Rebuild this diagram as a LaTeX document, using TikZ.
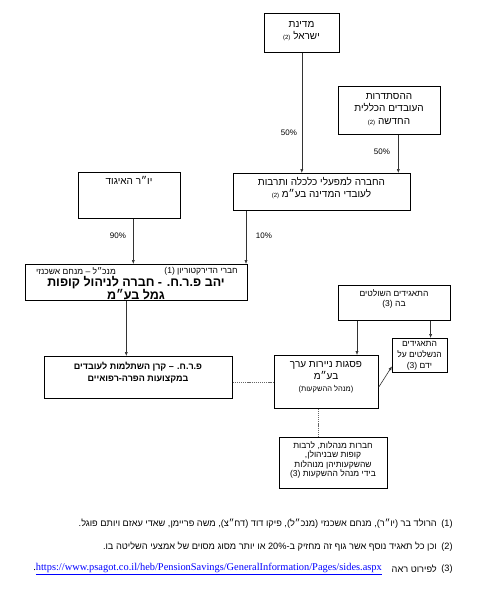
\documentclass[tikz,border=0pt]{standalone}
\usepackage{fontspec}
\setmainfont{Liberation Sans}
\newfontfamily\hebfont[Script=Hebrew]{Liberation Sans}
\newfontfamily\urlfont{Liberation Serif}
\usetikzlibrary{arrows.meta,calc}
\TeXXeTstate=1
\newcommand\heb[1]{\beginR#1\endR}
\newcommand\ltr[1]{\beginL#1\endL}
\newcommand\smn[1]{{\fontsize{6}{7}\selectfont\beginL#1\endL}}
\begin{document}
\begin{tikzpicture}[x=1pt,y=-1pt,
  box/.style={draw, line width=0.6pt, inner sep=0pt, anchor=north west},
  txt/.style={font=\hebfont\fontsize{10}{12}\selectfont, align=center, inner sep=0pt},
  small/.style={font=\hebfont\fontsize{8.5}{10}\selectfont, align=center, inner sep=0pt},
  pct/.style={font=\fontsize{8}{9}\selectfont, inner sep=0pt},
  arr/.style={draw=black!80, line width=0.6pt, -{Latex[length=4pt,width=3.2pt]}},
  dsh/.style={draw=black!60, line width=0.5pt, dash pattern=on 1.2pt off 0.9pt},
  foot/.style={font=\hebfont\fontsize{9.2}{10}\selectfont, inner sep=0pt}]
\useasboundingbox (0,0) rectangle (481,589);

% boxes
\node[box, minimum width=75pt,  minimum height=39pt] (A) at (264,13) {};
\node[box, minimum width=102pt, minimum height=48pt] (B) at (338,86) {};
\node[box, minimum width=177pt, minimum height=37pt] (C) at (233,173) {};
\node[box, minimum width=102pt, minimum height=46pt] (D) at (78,172) {};
\node[box, minimum width=222pt, minimum height=36pt] (E) at (25,264) {};
\node[box, minimum width=188pt, minimum height=42pt] (F) at (44,356) {};
\node[box, minimum width=104pt, minimum height=53pt] (G) at (274,355) {};
\node[box, minimum width=112pt, minimum height=35pt] (H) at (338,285) {};
\node[box, minimum width=55pt,  minimum height=34pt] (I) at (392,338) {};
\node[box, minimum width=108pt, minimum height=51pt] (J) at (279,437) {};

% texts
\node[txt] (At) at (301.5,31) {\heb{מדינת}\\\heb{ישראל \smn{(2)}}};
\node[txt, font=\hebfont\fontsize{10}{12.5}\selectfont] (Bt) at (389,109.5) {\heb{ההסתדרות}\\\heb{העובדים הכללית}\\\heb{החדשה \smn{(2)}}};
\node[txt] (Ct) at (321.5,188) {\heb{החברה למפעלי כלכלה ותרבות}\\\heb{לעובדי המדינה בע״מ \smn{(2)}}};
\node[txt] (Dt) at (129,180) {\heb{יו״ר האיגוד}};
\node[small, anchor=east] (Et1) at (238,271) {\heb{חברי הדירקטוריון \ltr{(1)}}};
\node[small, anchor=west] (Et2) at (36,271) {\heb{מנכ״ל – מנחם אשכנזי}};
\node[txt, font=\hebfont\bfseries\fontsize{12.5}{12}\selectfont] (Et) at (136,288) {\heb{יהב פ.ר.ח. - חברה לניהול קופות}\\\heb{גמל בע״מ}};
\node[txt, font=\hebfont\bfseries\fontsize{9}{12}\selectfont] (Ft) at (138,373) {\heb{פ.ר.ח. – קרן השתלמות לעובדים}\\\heb{במקצועות הפרה-רפואיים}};
\node[txt] (Gt) at (326,377) {\heb{פסגות ניירות ערך}\\\heb{בע״מ}\\{\fontsize{7.5}{9}\selectfont\heb{(מנהל ההשקעות)}}};
\node[small] (Ht) at (394,299) {\heb{התאגידים השולטים}\\\heb{בה \ltr{(3)}}};
\node[small, font=\hebfont\fontsize{8.5}{11}\selectfont] (It) at (419.5,356) {\heb{התאגידים}\\\heb{הנשלטים על}\\\heb{ידם \ltr{(3)}}};
\node[small, font=\hebfont\fontsize{8.5}{9.5}\selectfont] (Jt) at (333,460) {\heb{חברות מנהלות, לרבות}\\\heb{קופות שבניהולן,}\\\heb{שהשקעותיהן מנוהלות}\\\heb{בידי מנהל ההשקעות \ltr{(3)}}};

% connectors
\draw[arr] (A.south) -- (A.south |- C.north);
\coordinate (b1) at ($(B.south)+(9,0)$);
\draw[arr] (b1) -- (b1 |- C.north);
\coordinate (c1) at ($(C.south west)+(13,0)$);
\draw[arr] (c1) -- (c1 |- E.north);
\coordinate (d1) at ($(D.south)+(4,0)$);
\draw[arr] (d1) -- (d1 |- E.north);
\coordinate (e1) at ($(E.south)+(-10,0)$);
\draw[arr] (e1) -- (e1 |- F.north);
\draw[dsh] (G.west -| F.east) -- (G.west);
\coordinate (h1) at ($(H.south west)+(19,0)$);
\draw[arr] (h1) -- (h1 |- G.north);
\coordinate (h2) at ($(H.south east)+(-20,0)$);
\draw[arr] (h2) -- (h2 |- I.north);
\draw[arr] ($(G.east)+(0,5.5)$) -- ($(I.west)+(0,11)$);
\coordinate (g1) at ($(G.south west)+(44,0)$);
\draw[dsh] (g1) -- (g1 |- J.north);

% percentages
\node[pct] (p1) at (289,133) {50\%};
\node[pct] (p2) at (382,152) {50\%};
\node[pct] (p3) at (118,236) {90\%};
\node[pct] (p4) at (264,236) {10\%};

% footnotes
\node[foot] (n1) at (447,524) {(1)};
\node[foot, anchor=east] (f1) at (437,524) {\heb{הרולד בר (יו״ר), מנחם אשכנזי (מנכ״ל), פיקו דוד (דח״צ), משה פריימן, שאדי עאזם ויותם פוגל.}};
\node[foot] (n2) at (447,547) {(2)};
\node[foot, anchor=east] (f2) at (437,547) {\heb{וכן כל תאגיד נוסף אשר גוף זה מחזיק ב-\ltr{20\%} או יותר מסוג מסוים של אמצעי השליטה בו.}};
\node[foot] (n3) at (447,569) {(3)};
\node[foot, anchor=east] (f3) at (437,569) {\heb{לפירוט ראה}};
\node[inner sep=0pt, anchor=east, font=\urlfont\fontsize{10.4}{11}\selectfont] (u3) at (382,569) {.\textcolor{blue}{\underline{https://www.psagot.co.il/heb/PensionSavings/GeneralInformation/Pages/sides.aspx}}};
\end{tikzpicture}
\end{document}
